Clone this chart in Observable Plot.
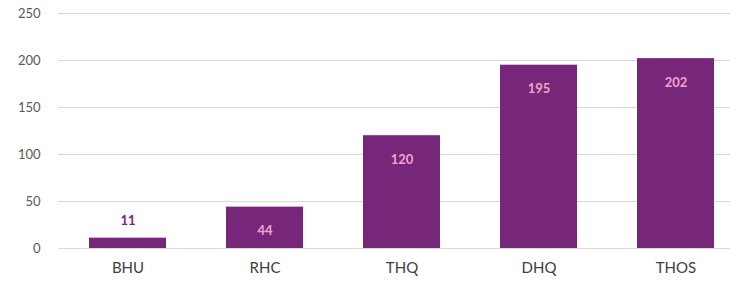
<!DOCTYPE html>
<html><head><meta charset="utf-8">
<script src="https://cdn.jsdelivr.net/npm/d3@7"></script>
<script src="https://cdn.jsdelivr.net/npm/@observablehq/plot@0.6"></script>
<style>body{margin:0;background:#fff;font-family:Lato,"Open Sans",sans-serif;}</style>
</head><body><div id="chart"></div>
<script>
const categories = ["BHU", "RHC", "THQ", "DHQ", "THOS"];
const values = [11, 44, 120, 195, 202];
const yTicks = [0, 50, 100, 150, 200, 250];

const data = categories.map((c, i) => ({cat: c, v: values[i]}));
const barColor = "#77277A";

const chart = Plot.plot({
  width: 736, height: 287,
  marginLeft: 58, marginRight: 6, marginTop: 13, marginBottom: 39,
  style: {fontFamily: "Lato, 'Open Sans', sans-serif", background: "#fff"},
  x: {domain: categories, range: [58, 744.6], paddingInner: 0.44, paddingOuter: 0.218, label: null},
  y: {domain: [0, 250], ticks: yTicks, label: null},
  marks: [
    Plot.gridY(yTicks, {stroke: "#d9d9d9", strokeOpacity: 1, strokeWidth: 1}),
    Plot.axisY(yTicks, {tickSize: 0, tickPadding: 18, fontSize: 13, fill: "#595959", textAnchor: "end", dx: 0, marginLeft: 58}),
    Plot.axisX({tickSize: 0, tickPadding: 14, fontSize: 15, fill: "#404040"}),
    Plot.barY(data, {x: "cat", y: "v", fill: barColor}),
    Plot.text(data.filter(d => d.v >= 30), {x: "cat", y: "v", text: d => String(d.v), dy: 24, fill: "#F4A3CC", fontSize: 13, fontWeight: "bold"}),
    Plot.text(data.filter(d => d.v < 30), {x: "cat", y: "v", text: d => String(d.v), dy: -17, fill: barColor, fontSize: 13, fontWeight: "bold"})
  ]
});
document.getElementById("chart").appendChild(chart);
</script>
</body></html>
